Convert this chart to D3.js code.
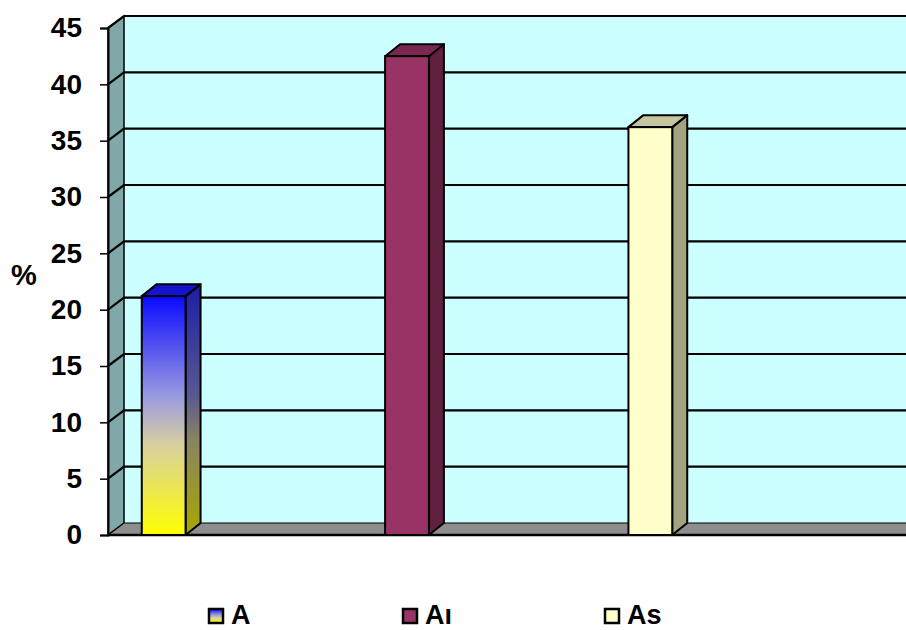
<!DOCTYPE html>
<html>
<head>
<meta charset="utf-8">
<script src="https://cdn.jsdelivr.net/npm/d3@7/dist/d3.min.js"></script>
<style>
  html, body { margin: 0; padding: 0; background: #ffffff; }
  svg { display: block; font-family: Arial, "Liberation Sans", sans-serif; }
</style>
</head>
<body>
<svg id="chart" width="906" height="630"></svg>
<script>
// Series shown as separate 3-D columns
const seriesNames = ["A", "Aı", "As"];
const seriesValues = [21.2, 42.5, 36.2];
const yTicks = [0, 5, 10, 15, 20, 25, 30, 35, 40, 45];
const yLabel = "%";

const W = 906, H = 630;
const svg = d3.select("#chart");

// Plot geometry (front plane) and oblique depth of the walls / columns
const front = { left: 108, right: 906, top: 28, bottom: 535 };
const wallDx = 16, wallDy = -12;
const barDx = 15, barDy = -12;

const y = d3.scaleLinear().domain([0, 45]).range([front.bottom, front.top]);
const x = d3.scaleBand()
  .domain(seriesNames)
  .range([42, 772])
  .paddingInner(0.82)
  .paddingOuter(0.41);

const defs = svg.append("defs");
const gFront = defs.append("linearGradient").attr("id", "gradA")
  .attr("x1", 0).attr("y1", 0).attr("x2", 0).attr("y2", 1);
[[0, "#0a0aff"], [0.42, "#9a9ae0"], [0.62, "#d8d0a0"], [1, "#ffff00"]]
  .forEach(([o, c]) => gFront.append("stop").attr("offset", o).attr("stop-color", c));
const gSide = defs.append("linearGradient").attr("id", "gradAside")
  .attr("x1", 0).attr("y1", 0).attr("x2", 0).attr("y2", 1);
[[0, "#1c1ca8"], [0.45, "#5a5a90"], [0.62, "#8a8460"], [1, "#a8a800"]]
  .forEach(([o, c]) => gSide.append("stop").attr("offset", o).attr("stop-color", c));

const colors = {
  "A":  { front: "url(#gradA)", side: "url(#gradAside)", top: "#1414d0" },
  "Aı": { front: "#993366", side: "#602040", top: "#7a2850" },
  "As": { front: "#ffffcc", side: "#a3a380", top: "#c6c69e" }
};

const line = d3.line();

// Back wall
svg.append("path")
  .attr("d", line([
    [front.left + wallDx, y(45) + wallDy], [W + 2, y(45) + wallDy],
    [W + 2, y(0) + wallDy], [front.left + wallDx, y(0) + wallDy]
  ]) + "Z")
  .attr("fill", "#ccffff");

// Side wall
svg.append("path")
  .attr("d", line([
    [front.left, y(45)], [front.left + wallDx, y(45) + wallDy],
    [front.left + wallDx, y(0) + wallDy], [front.left, y(0)]
  ]) + "Z")
  .attr("fill", "#80a8a8")
  .attr("stroke", "#000").attr("stroke-width", 1.5);

// Floor
svg.append("path")
  .attr("d", line([
    [front.left, y(0)], [front.left + wallDx, y(0) + wallDy],
    [W + 2, y(0) + wallDy], [W + 2, y(0)]
  ]) + "Z")
  .attr("fill", "#8e8e8e")
  .attr("stroke", "#000").attr("stroke-width", 1.2);

// Gridlines across side wall and back wall
svg.append("g").selectAll("path")
  .data(yTicks.filter(t => t > 0))
  .join("path")
  .attr("d", t => line([
    [front.left, y(t)], [front.left + wallDx, y(t) + wallDy], [W + 2, y(t) + wallDy]
  ]))
  .attr("fill", "none")
  .attr("stroke", "#000")
  .attr("stroke-width", 2.2);

// Front edge of floor
svg.append("line")
  .attr("x1", front.left).attr("x2", W + 2)
  .attr("y1", y(0)).attr("y2", y(0))
  .attr("stroke", "#000").attr("stroke-width", 2.5);

// Y axis with ticks
const yAxis = d3.axisLeft(y).tickValues(yTicks).tickSize(8).tickPadding(18);
const axisG = svg.append("g")
  .attr("transform", `translate(${front.left},0)`)
  .call(yAxis);
axisG.select(".domain").attr("stroke", "#000").attr("stroke-width", 2);
axisG.selectAll(".tick line").attr("stroke", "#000").attr("stroke-width", 1.5);
axisG.selectAll(".tick text")
  .attr("font-size", 28)
  .attr("font-weight", "bold")
  .attr("fill", "#000")
  .attr("font-family", "Arial, 'Liberation Sans', sans-serif");

svg.append("text")
  .attr("x", 24).attr("y", 285)
  .attr("text-anchor", "middle")
  .attr("font-size", 29).attr("font-weight", "bold")
  .text(yLabel);

// 3-D columns
const bars = svg.append("g").selectAll("g")
  .data(seriesNames.map((n, i) => ({ name: n, value: seriesValues[i] })))
  .join("g");

bars.each(function (d) {
  const g = d3.select(this);
  const x0 = x(d.name), x1 = x0 + x.bandwidth();
  const yt = y(d.value), yb = y(0);
  const c = colors[d.name];
  // side face
  g.append("path")
    .attr("d", line([[x1, yt], [x1 + barDx, yt + barDy], [x1 + barDx, yb + barDy], [x1, yb]]) + "Z")
    .attr("fill", c.side).attr("stroke", "#000").attr("stroke-width", 2).attr("stroke-linejoin", "round");
  // top face
  g.append("path")
    .attr("d", line([[x0, yt], [x0 + barDx, yt + barDy], [x1 + barDx, yt + barDy], [x1, yt]]) + "Z")
    .attr("fill", c.top).attr("stroke", "#000").attr("stroke-width", 2).attr("stroke-linejoin", "round");
  // front face
  g.append("rect")
    .attr("x", x0).attr("y", yt)
    .attr("width", x1 - x0).attr("height", yb - yt)
    .attr("fill", c.front).attr("stroke", "#000").attr("stroke-width", 2);
});

// Legend along the bottom edge
const legendX = [209, 403, 605];
const legend = svg.append("g").selectAll("g")
  .data(seriesNames)
  .join("g")
  .attr("transform", (d, i) => `translate(${legendX[i]},609)`);
legend.append("rect")
  .attr("width", 14).attr("height", 14)
  .attr("fill", d => colors[d].front)
  .attr("stroke", "#000").attr("stroke-width", 2.5);
legend.append("text")
  .attr("x", 22).attr("y", 15)
  .attr("font-size", 27).attr("font-weight", "bold")
  .text(d => d);
</script>
</body>
</html>
